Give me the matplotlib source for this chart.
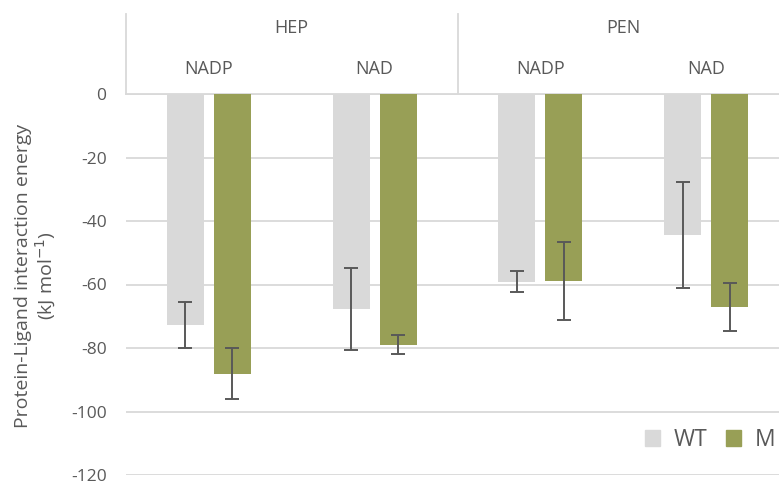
import matplotlib
matplotlib.use("Agg")
import matplotlib.pyplot as plt
import numpy as np
from matplotlib.patches import Patch

plt.rcParams['font.family'] = ['Open Sans', 'DejaVu Sans']

groups = ["HEP", "PEN"]
cofactors = ["NADP", "NAD", "NADP", "NAD"]
wt_mean = [-72.8, -67.7, -59.1, -44.4]
wt_err = [7.3, 13.0, 3.3, 16.6]
m_mean = [-88.1, -79.0, -58.8, -67.1]
m_err = [8.0, 3.0, 12.3, 7.5]
yticks = [0, -20, -40, -60, -80, -100, -120]

WT_COL = "#d9d9d9"
M_COL = "#989f56"
TXT = "#595959"
GRID = "#d9d9d9"

fig = plt.figure(figsize=(7.79, 4.83), dpi=100)
# axes runs a bit past the right edge, as in the cropped original
ax = fig.add_axes([126 / 779, 8 / 483, 663 / 779, 381 / 483])

x = np.arange(len(cofactors))
w = 0.223
off = 0.1416
ax.bar(x - off, wt_mean, w, color=WT_COL, zorder=2)
ax.bar(x + off, m_mean, w, color=M_COL, zorder=2)
ax.errorbar(x - off, wt_mean, yerr=wt_err, fmt="none", ecolor=TXT,
            elinewidth=1.4, capsize=5, capthick=1.4, zorder=3)
ax.errorbar(x + off, m_mean, yerr=m_err, fmt="none", ecolor=TXT,
            elinewidth=1.4, capsize=5, capthick=1.4, zorder=3)

ax.set_xlim(-0.5, 3.5)
ax.set_ylim(-120, 0)
ax.set_yticks(yticks, labels=[str(v) for v in yticks])
ax.set_xticks([])
ax.tick_params(axis="y", length=0, pad=14, labelsize=12.5, labelcolor=TXT)
ax.grid(axis="y", color=GRID, linewidth=1.3, zorder=0)
for s in ax.spines.values():
    s.set_visible(False)

# category header above the zero line
top = 25.2
for xv in (-0.5, 1.5):
    ax.plot([xv, xv], [0, top], color=GRID, linewidth=1.3, clip_on=False)
ax.plot([-0.5, 3.6], [0, 0], color=GRID, linewidth=1.3, clip_on=False, zorder=1)
for i, g in enumerate(groups):
    ax.text(0.5 + 2 * i, 20.9, g, ha="center", va="center",
            fontsize=13, color=TXT, clip_on=False)
for i, c in enumerate(cofactors):
    ax.text(i, 8.0, c, ha="center", va="center",
            fontsize=13, color=TXT, clip_on=False)

fig.text(36 / 779, 1 - 276 / 483,
         "Protein-Ligand interaction energy\n(kJ mol$^{-1}$)",
         rotation=90, ha="center", va="center", multialignment="center",
         fontsize=14, color=TXT, linespacing=1.1)

handles = [Patch(color=WT_COL, label="WT"), Patch(color=M_COL, label="M")]
fig.legend(handles=handles, loc="center right", bbox_to_anchor=(775 / 779, 1 - 440 / 483),
           ncol=2, frameon=False, fontsize=16.5, handlelength=0.65, handleheight=0.65,
           handletextpad=0.6, columnspacing=0.8, labelcolor=TXT,
           borderaxespad=0, borderpad=0)

fig.savefig("out.png", dpi=100)
